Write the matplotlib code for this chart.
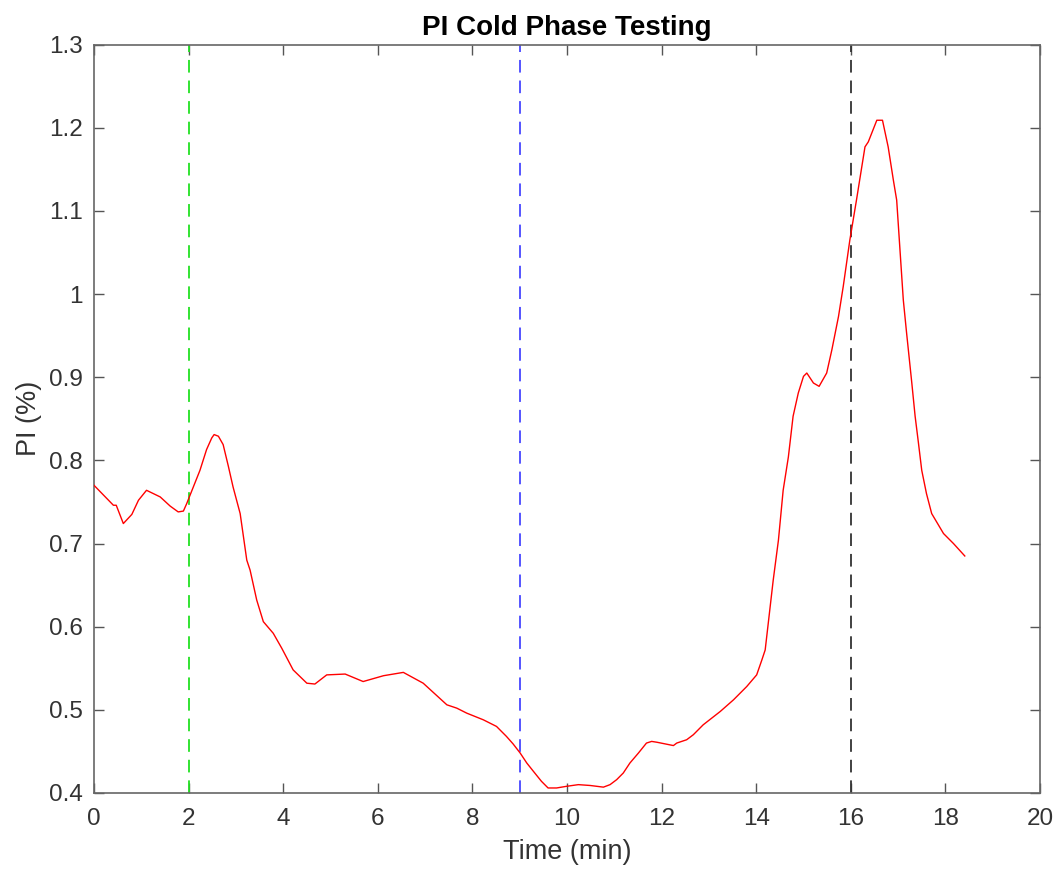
import matplotlib
matplotlib.use("Agg")
import matplotlib.pyplot as plt

plt.rcParams['font.family'] = ['Liberation Sans', 'DejaVu Sans']

# PI readings over the cold phase test
time_min = [0.00, 0.41, 0.47, 0.62, 0.80, 0.94, 1.11, 1.40, 1.61, 1.78,
            1.89, 1.96, 2.10, 2.24, 2.38, 2.49, 2.54, 2.63, 2.73, 2.84,
            2.94, 3.09, 3.23, 3.30, 3.44, 3.58, 3.79, 3.97, 4.21, 4.50,
            4.67, 4.92, 5.31, 5.69, 6.12, 6.54, 6.96, 7.46, 7.67, 7.88,
            8.23, 8.51, 8.72, 8.86, 9.01, 9.15, 9.29, 9.46, 9.60, 9.78,
            9.99, 10.24, 10.49, 10.77, 10.91, 11.05, 11.19, 11.33, 11.51, 11.68,
            11.79, 11.90, 12.25, 12.32, 12.53, 12.67, 12.88, 13.24, 13.52, 13.80,
            14.01, 14.12, 14.19, 14.36, 14.47, 14.57, 14.68, 14.78, 14.89, 15.00,
            15.07, 15.21, 15.33, 15.49, 15.60, 15.74, 15.84, 15.98, 16.12, 16.30,
            16.37, 16.55, 16.67, 16.79, 16.90, 16.97, 17.04, 17.11, 17.18, 17.29,
            17.36, 17.43, 17.50, 17.60, 17.71, 17.96, 18.17, 18.41]
pi_pct = [0.770, 0.746, 0.746, 0.724, 0.735, 0.752, 0.764, 0.756, 0.745, 0.738,
          0.739, 0.748, 0.768, 0.788, 0.813, 0.827, 0.831, 0.829, 0.819, 0.793,
          0.768, 0.736, 0.680, 0.668, 0.632, 0.606, 0.592, 0.574, 0.548, 0.532,
          0.531, 0.542, 0.543, 0.534, 0.541, 0.545, 0.532, 0.506, 0.502, 0.496,
          0.488, 0.480, 0.468, 0.459, 0.448, 0.436, 0.426, 0.414, 0.406, 0.406,
          0.408, 0.410, 0.409, 0.407, 0.410, 0.416, 0.424, 0.436, 0.448, 0.460,
          0.462, 0.461, 0.457, 0.460, 0.464, 0.470, 0.482, 0.498, 0.512, 0.528,
          0.542, 0.560, 0.572, 0.656, 0.704, 0.764, 0.804, 0.853, 0.881, 0.901,
          0.905, 0.893, 0.889, 0.905, 0.933, 0.973, 1.009, 1.065, 1.113, 1.177,
          1.183, 1.209, 1.209, 1.177, 1.137, 1.113, 1.053, 0.993, 0.953, 0.893,
          0.853, 0.821, 0.788, 0.760, 0.736, 0.712, 0.700, 0.685]

# Phase markers (minutes) and their colours
marker_times = [2, 9, 16]
marker_colors = ['#22e022', '#4646ff', '#333333']

x_ticks = list(range(0, 21, 2))
y_ticks = [0.4, 0.5, 0.6, 0.7, 0.8, 0.9, 1.0, 1.1, 1.2, 1.3]
y_tick_labels = ['0.4', '0.5', '0.6', '0.7', '0.8', '0.9', '1', '1.1', '1.2', '1.3']

fig = plt.figure(figsize=(10.61, 8.69), dpi=100)
ax = fig.add_axes([0.0886, 0.0875, 0.8916, 0.8612])

ax.plot(time_min, pi_pct, color='#ff0000', lw=1.0, zorder=3)
for t, c in zip(marker_times, marker_colors):
    ax.axvline(t, color=c, lw=1.3, dashes=(7.0, 4.4), zorder=2)

ax.set_xlim(0, 20)
ax.set_ylim(0.4, 1.3)
ax.set_xticks(x_ticks)
ax.set_yticks(y_ticks)
ax.set_yticklabels(y_tick_labels)

axis_gray = '#333333'
for s in ax.spines.values():
    s.set_color('#666666')
    s.set_linewidth(1.2)
ax.tick_params(direction='in', top=True, right=True, length=7, width=1.0,
               colors='#555555', labelcolor=axis_gray, labelsize=17.5)
ax.tick_params(axis='x', pad=11)
ax.tick_params(axis='y', pad=8)

ax.set_xlabel('Time (min)', fontsize=19.5, color=axis_gray, labelpad=6)
ax.set_ylabel('PI (%)', fontsize=19.5, color=axis_gray, labelpad=5)
ax.set_title('PI Cold Phase Testing', fontsize=20, fontweight='bold', pad=7)

fig.savefig('out.png', dpi=100)
